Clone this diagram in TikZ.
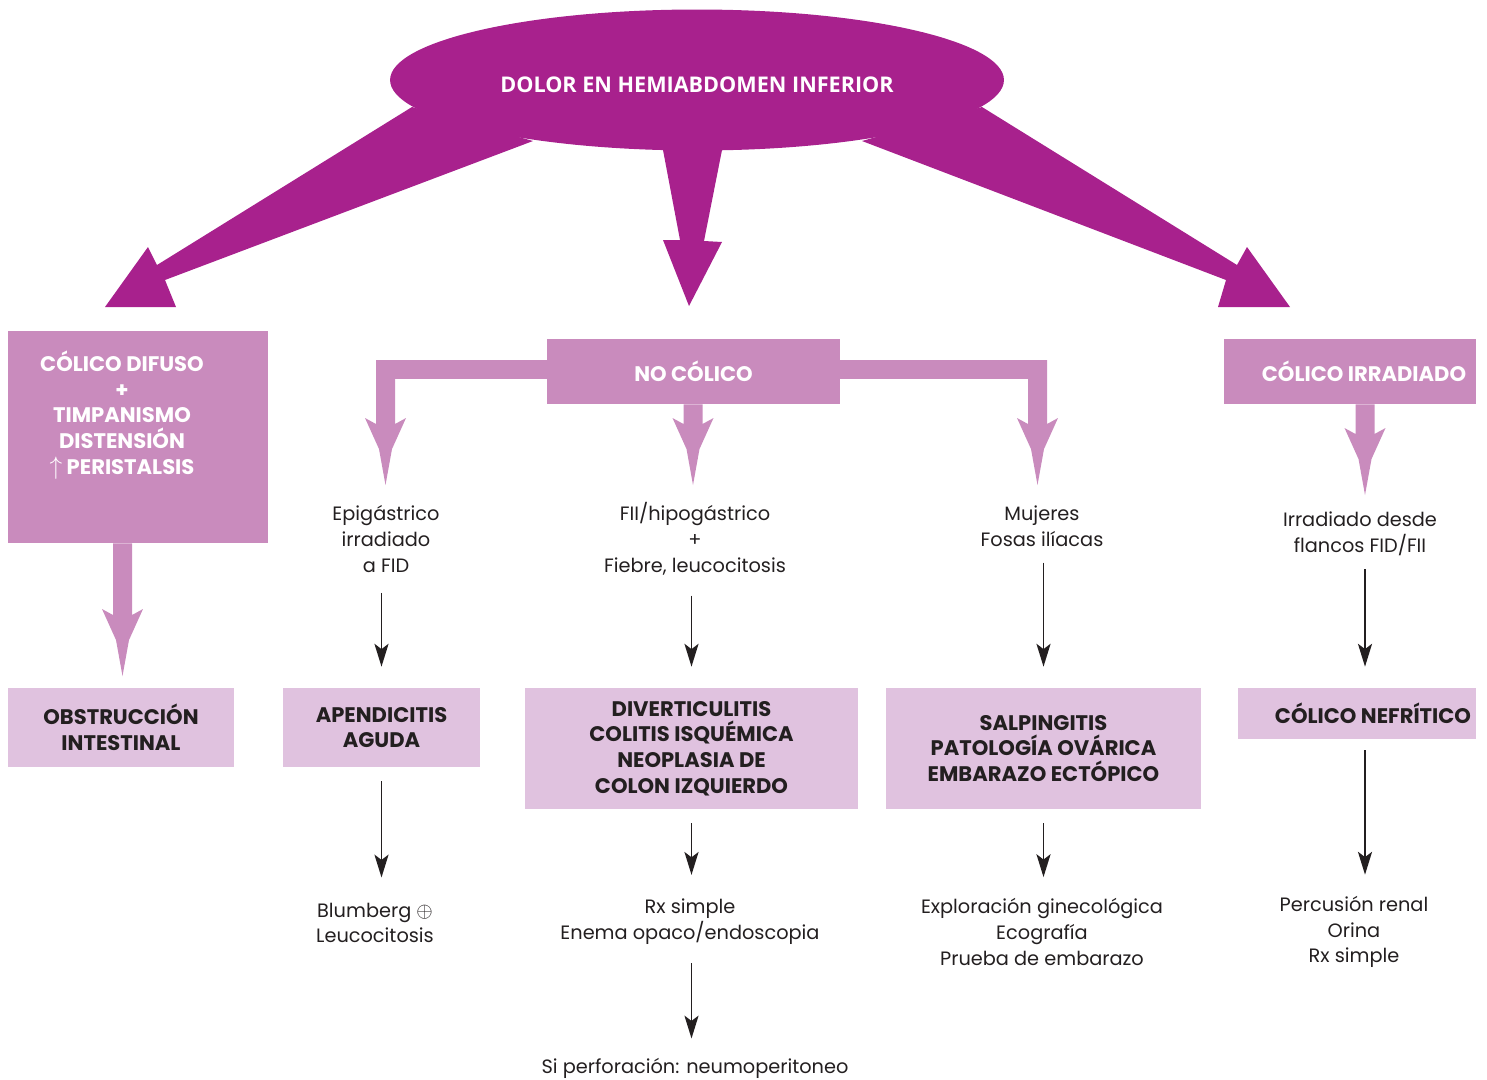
\documentclass[tikz,border=0pt]{standalone}
\usepackage{fontspec}
\setmainfont{Poppins}
\newfontfamily\titlefont{Open Sans}
\usepackage{tikz}
\usetikzlibrary{arrows.meta,positioning,calc,shapes.geometric}
\definecolor{dolorpurple}{HTML}{A8218D}
\definecolor{pinkmid}{HTML}{C98BBD}
\definecolor{pinklight}{HTML}{E0C2DF}
\definecolor{inkdark}{HTML}{231F20}

\begin{document}
\begin{tikzpicture}[x=0.02cm, y=-0.02cm, text=inkdark,
  font=\fontsize{11}{14.7}\selectfont,
  midbox/.style={fill=pinkmid, inner sep=0pt, align=center, text=white,
                 font=\fontsize{12}{14.7}\selectfont\bfseries},
  lightbox/.style={fill=pinklight, inner sep=0pt, align=center,
                   font=\fontsize{12}{14.7}\selectfont\bfseries},
  note/.style={align=center, inner sep=2pt},
  blk/.style={-{Stealth[length=13pt,width=8pt,inset=3pt]}, line width=1.1pt, draw=inkdark},
  fat/.style={to path={let \p1=(\tikztostart), \p2=(\tikztotarget) in
    (\x2-0.19cm,\y1) -- (\x2-0.19cm,\y2+1.22cm) -- (\x2-0.41cm,\y2+1.34cm)
    -- (\x2-0.13cm,\y2+0.72cm) -- (\x2,\y2) -- (\x2+0.13cm,\y2+0.72cm)
    -- (\x2+0.41cm,\y2+1.34cm) -- (\x2+0.19cm,\y2+1.22cm) -- (\x2+0.19cm,\y1) -- cycle}}
]
\useasboundingbox (0,0) rectangle (1487,1079);
\fill[dolorpurple] (412,107) -- (157,265) -- (148,247) -- (105,307) -- (176,307)
  -- (165,280) -- (533,141) -- cycle;
\fill[dolorpurple] (982,107) -- (1237,265) -- (1247,247) -- (1290,307) -- (1218,307)
  -- (1226,280) -- (862,141) -- cycle;
\fill[dolorpurple] (663,150) -- (680,240) -- (663,240) -- (689,306) -- (722,242)
  -- (704,241) -- (722,150) -- cycle;
\node[ellipse, fill=dolorpurple, minimum width=12.28cm, minimum height=2.82cm,
  text=white, text height=14.5pt, text depth=0pt,
  font=\titlefont\bfseries\fontsize{12.3}{14}\selectfont] (dolor) at (697,80)
  {DOLOR EN HEMIABDOMEN INFERIOR};
\fill[pinkmid] (376,360) rectangle (1047,379);
\node[midbox, minimum width=5.2cm, minimum height=4.24cm] (difuso) at (138,437) {};
\node[note, text=white, font=\fontsize{12}{14.7}\selectfont\bfseries] (difusotxt) at (122,415)
  {CÓLICO DIFUSO\\+\\TIMPANISMO\\DISTENSIÓN\\{\fontsize{14}{14}\selectfont$\uparrow$} PERISTALSIS};
\node[midbox, minimum width=5.86cm, minimum height=1.3cm] (nocolico) at (693.5,371.5) {NO CÓLICO};
\node[midbox, minimum width=5.04cm, minimum height=1.3cm] (irradiado) at (1350,371.5)
  {\hspace*{0.56cm}CÓLICO IRRADIADO};
\coordinate (tipO) at (122.5,676);
\coordinate (tipA) at (385.5,485);
\coordinate (tipB) at (693,485);
\coordinate (tipC) at (1037.5,485);
\coordinate (tipE) at (1365,495);
\coordinate (barL) at (385.5,360);
\coordinate (barR) at (1037.5,360);
\node[note] (epig) at (386,539) {Epigástrico\\irradiado\\a FID};
\node[note] (fii) at (695,539) {FII/hipogástrico\\+\\Fiebre, leucocitosis};
\node[note] (mujeres) at (1042,526) {Mujeres\\Fosas ilíacas};
\node[note] (irrtxt) at (1360,534) {Irradiado desde\\flancos FID/FII};
\node[lightbox, minimum width=4.52cm, minimum height=1.58cm] (obstruccion) at (121,727.5)
  {OBSTRUCCIÓN\\INTESTINAL};
\node[lightbox, minimum width=3.94cm, minimum height=1.58cm] (apendicitis) at (381.5,727.5)
  {APENDICITIS\\AGUDA};
\node[lightbox, minimum width=6.66cm, minimum height=2.42cm] (divert) at (691.5,748.5)
  {DIVERTICULITIS\\COLITIS ISQUÉMICA\\NEOPLASIA DE\\COLON IZQUIERDO};
\node[lightbox, minimum width=6.3cm, minimum height=2.42cm] (salping) at (1043.5,748.5)
  {SALPINGITIS\\PATOLOGÍA OVÁRICA\\EMBARAZO ECTÓPICO};
\node[lightbox, minimum width=4.76cm, minimum height=1.02cm] (nefritico) at (1357,713.5)
  {\hspace*{0.64cm}CÓLICO NEFRÍTICO};
\node[note] (blumberg) at (375,923) {Blumberg {\fontsize{13}{13}\selectfont$\oplus$}\\Leucocitosis};
\node[note] (rx) at (690,922) {Rx simple\\Enema opaco/endoscopia};
\node[note] (explor) at (1042,932) {Exploración ginecológica\\Ecografía\\Prueba de embarazo};
\node[note] (percusion) at (1354,932) {Percusión renal\\Orina\\Rx simple};
\node[note] (perfor) at (695,1068) {Si perforación: neumoperitoneo};
\fill[pinkmid] (difuso.south) to[fat] (tipO);
\fill[pinkmid] (barL) to[fat] (tipA);
\fill[pinkmid] (nocolico.south) to[fat] (tipB);
\fill[pinkmid] (barR) to[fat] (tipC);
\fill[pinkmid] (irradiado.south) to[fat] (tipE);
\draw[blk, shorten <=0.33cm, shorten >=0.42cm] (epig.south -| apendicitis.north) -- (apendicitis.north);
\draw[blk, shorten <=0.33cm, shorten >=0.42cm] (fii.south -| divert.north) -- (divert.north);
\draw[blk, shorten <=0.25cm, shorten >=0.42cm] (mujeres.south -| salping.north) -- (salping.north);
\draw[blk, shorten <=0.19cm, shorten >=0.42cm] (irrtxt.south -| tipE) -- (nefritico.north -| tipE);
\draw[blk, shorten <=0.28cm, shorten >=0.43cm] (apendicitis.south) -- (blumberg.north -| apendicitis.south);
\draw[blk, shorten <=0.28cm, shorten >=0.41cm] (divert.south) -- (rx.north -| divert.south);
\draw[blk, shorten <=0.28cm, shorten >=0.35cm] (salping.south) -- (explor.north -| salping.south);
\draw[blk, shorten <=0.22cm, shorten >=0.35cm] (nefritico.south -| tipE) -- (percusion.north -| tipE);
\draw[blk, shorten <=0.29cm, shorten >=0.31cm] (rx.south -| divert.south) -- (perfor.north -| divert.south);
\end{tikzpicture}
\end{document}
